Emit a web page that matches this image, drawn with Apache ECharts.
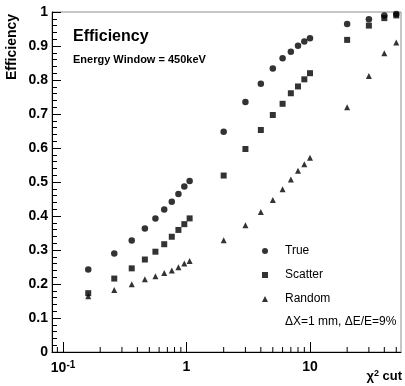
<!DOCTYPE html>
<html>
<head>
<meta charset="utf-8">
<script src="https://cdn.jsdelivr.net/npm/echarts@6/dist/echarts.min.js"></script>
<style>html,body{margin:0;padding:0;background:#fff}#c{width:405px;height:386px}</style>
</head>
<body>
<div id="c"></div>
<script>
// chi2 cut values
var xVals = [0.16,0.26,0.36,0.46,0.56,0.66,0.76,0.86,0.96,1.06, 2,3,4,5,6,7,8,9,10, 20,30,40,50];
var trueVals = [0.243,0.290,0.328,0.363,0.393,0.419,0.442,0.465,0.487,0.503, 0.648,0.735,0.789,0.834,0.864,0.883,0.901,0.913,0.923, 0.965,0.979,0.990,0.994];
var scatterVals = [0.173,0.216,0.246,0.272,0.295,0.317,0.339,0.359,0.376,0.393, 0.519,0.597,0.653,0.697,0.730,0.761,0.781,0.802,0.820, 0.918,0.960,0.982,0.990];
var randomVals = [0.164,0.182,0.199,0.214,0.223,0.232,0.240,0.249,0.260,0.268, 0.329,0.373,0.412,0.447,0.479,0.507,0.533,0.552,0.571, 0.720,0.812,0.879,0.910];
var seriesNames = ['True','Scatter','Random'];
// minor tick positions of the log x axis
var xMinorTicks = [0.09,0.2,0.3,0.4,0.5,0.6,0.7,0.8,0.9,2,3,4,5,6,7,8,9,20,30,40,50];
var xMin = 0.0814, xMax = 54.6;

var FONT = '"Liberation Sans", Arial, Helvetica, sans-serif';
function pairs(ys){ return xVals.map(function(x,i){ return [x, ys[i]]; }); }

var chart = echarts.init(document.getElementById('c'), null, {renderer:'canvas'});
chart.setOption({
  animation: false,
  backgroundColor: '#fff',
  grid: {left: 52, top: 12, right: 4, bottom: 34, show: true, borderColor: '#8c8c8c', borderWidth: 1, backgroundColor: 'transparent'},
  xAxis: {
    type: 'log', logBase: 10, min: xMin, max: xMax,
    axisLine: {show: true, lineStyle: {color: '#000', width: 1}},
    axisTick: {show: true, inside: true, length: 10, lineStyle: {color: '#000'}},
    splitLine: {show: false},
    axisLabel: {
      margin: 8, showMinLabel: false, showMaxLabel: false,
      fontFamily: FONT, fontWeight: 'bold', fontSize: 14, color: '#000',
      formatter: function(v){
        var l = Math.log10(v), r = Math.round(l);
        if (Math.abs(l - r) > 0.01) return '';
        if (r === -1) return '10{s|-1}';
        return String(Math.round(Math.pow(10, r)));
      },
      rich: {s: {fontFamily: FONT, fontWeight: 'bold', fontSize: 10, color: '#000', verticalAlign: 'top', padding: [0,0,6,0]}}
    }
  },
  yAxis: {
    type: 'value', min: 0, max: 1, interval: 0.1,
    axisLine: {show: true, lineStyle: {color: '#000', width: 1}},
    axisTick: {show: true, inside: true, length: 9, lineStyle: {color: '#000'}},
    minorTick: {show: true, splitNumber: 5, length: 5, lineStyle: {color: '#000'}},
    splitLine: {show: false},
    axisLabel: {margin: 4, fontFamily: FONT, fontWeight: 'bold', fontSize: 14, color: '#000',
      formatter: function(v){ return (v === 0 || v === 1) ? String(v) : v.toFixed(1); }}
  },
  legend: {
    data: seriesNames, orient: 'vertical', left: 257, top: 239,
    itemWidth: 6, itemHeight: 6, itemGap: 10,
    textStyle: {fontFamily: FONT, fontSize: 12, color: '#000', lineHeight: 14, padding: [0,0,0,12]}
  },
  graphic: [
    {type: 'text', left: 73, top: 29, style: {text: 'Efficiency', font: 'bold 16px ' + FONT, fill: '#000'}},
    {type: 'text', left: 73, top: 54, style: {text: 'Energy Window = 450keV', font: 'bold 11px ' + FONT, fill: '#000'}},
    {type: 'text', x: 12, y: 47, rotation: Math.PI/2, style: {text: 'Efficiency', font: 'bold 14px ' + FONT, fill: '#000', align: 'center', verticalAlign: 'middle'}},
    {type: 'text', left: 285, top: 316, style: {text: '\u0394X=1 mm, \u0394E/E=9%', font: '12px ' + FONT, fill: '#000'}},
    {type: 'text', right: 3, top: 369, style: {text: '\u03c7{s|2} cut', font: 'bold 13px ' + FONT, fill: '#000',
      rich: {s: {font: 'bold 9px ' + FONT, fill: '#000', verticalAlign: 'top', padding: [0,0,6,0]}}}}
  ],
  series: [
    {name: 'True', type: 'scatter', symbol: 'circle', symbolSize: 6.5, itemStyle: {color: '#000'}, data: pairs(trueVals)},
    {name: 'Scatter', type: 'scatter', symbol: 'rect', symbolSize: 6, itemStyle: {color: '#000'}, data: pairs(scatterVals)},
    {name: 'Random', type: 'scatter', symbol: 'triangle', symbolSize: 6, itemStyle: {color: '#000'}, data: pairs(randomVals)},
    {name: 'minorTicks', type: 'custom', silent: true, clip: false,
      data: xMinorTicks.map(function(x){ return [x, 0]; }),
      renderItem: function(params, api){
        var p = api.coord([api.value(0), 0]);
        return {type: 'line', shape: {x1: p[0], y1: p[1], x2: p[0], y2: p[1] - 5}, style: {stroke: '#000', lineWidth: 1}};
      }}
  ]
});
</script>
</body>
</html>
